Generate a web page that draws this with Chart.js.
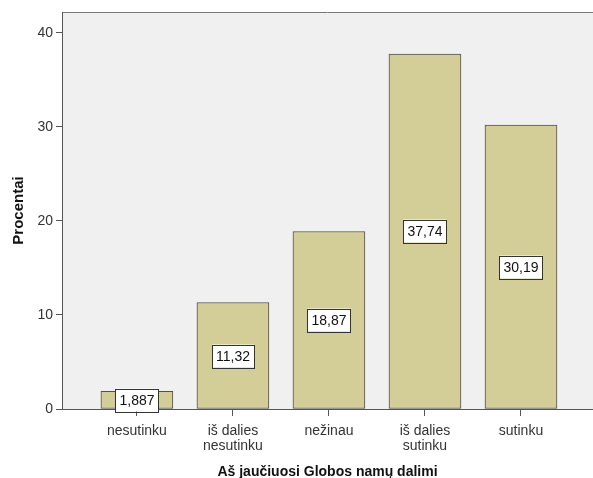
<!DOCTYPE html>
<html>
<head>
<meta charset="utf-8">
<script src="https://cdn.jsdelivr.net/npm/chart.js@4/dist/chart.umd.min.js"></script>
<style>
  html, body { margin: 0; padding: 0; background: #fff; overflow: hidden; }
  #wrap { width: 593px; height: 478px; }
</style>
</head>
<body>
<div id="wrap"><canvas id="grafik" width="593" height="478"></canvas></div>
<script>
// data
const kategori = [['nesutinku'], ['iš dalies', 'nesutinku'], ['nežinau'], ['iš dalies', 'sutinku'], ['sutinku']];
const procentai = [1.887, 11.32, 18.87, 37.74, 30.19];
const yTicks = [0, 10, 20, 30, 40];

const FONT = 'Arial, "Liberation Sans", sans-serif';

// latar belakang area plot + garis atas
const plotBg = {
    id: 'plotBg',
    beforeDraw(chart) {
        const { ctx, chartArea: a } = chart;
        ctx.save();
        ctx.fillStyle = '#f0f0f0';
        ctx.fillRect(a.left, a.top, a.right - a.left, a.bottom - a.top);
        ctx.strokeStyle = '#777';
        ctx.lineWidth = 1;
        ctx.beginPath();
        ctx.moveTo(a.left, a.top + 0.5);
        ctx.lineTo(a.right, a.top + 0.5);
        ctx.stroke();
        ctx.restore();
    }
};

// label nilai di tengah batang
const nilaiLabel = {
    id: 'nilaiLabel',
    afterDatasetsDraw(chart) {
        const { ctx } = chart;
        const meta = chart.getDatasetMeta(0);
        ctx.save();
        ctx.font = '14px ' + FONT;
        ctx.textAlign = 'center';
        ctx.textBaseline = 'middle';
        meta.data.forEach((bar, i) => {
            const txt = String(procentai[i]).replace('.', ',');
            const w = ctx.measureText(txt).width + 8;
            const h = 23;
            const cy = Math.round((bar.y + bar.base) / 2);
            const cx = Math.round(bar.x);
            ctx.fillStyle = '#fff';
            ctx.fillRect(cx - w / 2, cy - h / 2, w, h);
            ctx.strokeStyle = '#333';
            ctx.lineWidth = 1;
            ctx.strokeRect(Math.round(cx - w / 2) + 0.5, Math.round(cy - h / 2) + 0.5, Math.round(w), h);
            ctx.fillStyle = '#111';
            ctx.fillText(txt, cx, cy + 1);
        });
        ctx.restore();
    }
};

new Chart(document.getElementById('grafik'), {
    type: 'bar',
    data: {
        datasets: [{
            data: procentai.map((v, i) => ({ x: i, y: v })),
            backgroundColor: '#d3ce97',
            borderColor: '#505050',
            borderWidth: 1,
            borderSkipped: false,
            barThickness: 72
        }]
    },
    options: {
        responsive: false,
        animation: false,
        layout: { padding: { top: 12, right: 0, left: 0, bottom: 0 } },
        plugins: { legend: { display: false }, tooltip: { enabled: false } },
        scales: {
            x: {
                type: 'linear',
                offset: false,
                min: -0.78,
                max: 4.75,
                afterBuildTicks: ax => { ax.ticks = kategori.map((c, i) => ({ value: i })); },
                afterFit: ax => { ax.height = 69; },
                ticks: {
                    callback: v => kategori[v],
                    color: '#333',
                    font: { family: FONT, size: 14, lineHeight: 1.05 },
                    padding: 8,
                    maxRotation: 0,
                    autoSkip: false
                },
                grid: { offset: false, drawOnChartArea: false, tickLength: 7, color: '#555' },
                border: { color: '#555', width: 1 },
                title: {
                    display: true,
                    text: 'Aš jaučiuosi Globos namų dalimi',
                    color: '#111',
                    font: { family: FONT, size: 14, weight: 'bold' },
                    padding: { top: 0, bottom: -3 }
                }
            },
            y: {
                min: 0,
                max: 42.2,
                afterBuildTicks: ax => { ax.ticks = yTicks.map(v => ({ value: v })); },
                afterFit: ax => { ax.width = 62; },
                ticks: {
                    color: '#333',
                    font: { family: FONT, size: 14 },
                    padding: 3
                },
                grid: { drawOnChartArea: false, tickLength: 6, color: '#555' },
                border: { color: '#555', width: 1 },
                title: {
                    display: true,
                    text: 'Procentai',
                    color: '#111',
                    font: { family: FONT, size: 15, weight: 'bold' },
                    padding: { top: 10, bottom: 0 }
                }
            }
        }
    },
    plugins: [plotBg, nilaiLabel]
});
</script>
</body>
</html>
